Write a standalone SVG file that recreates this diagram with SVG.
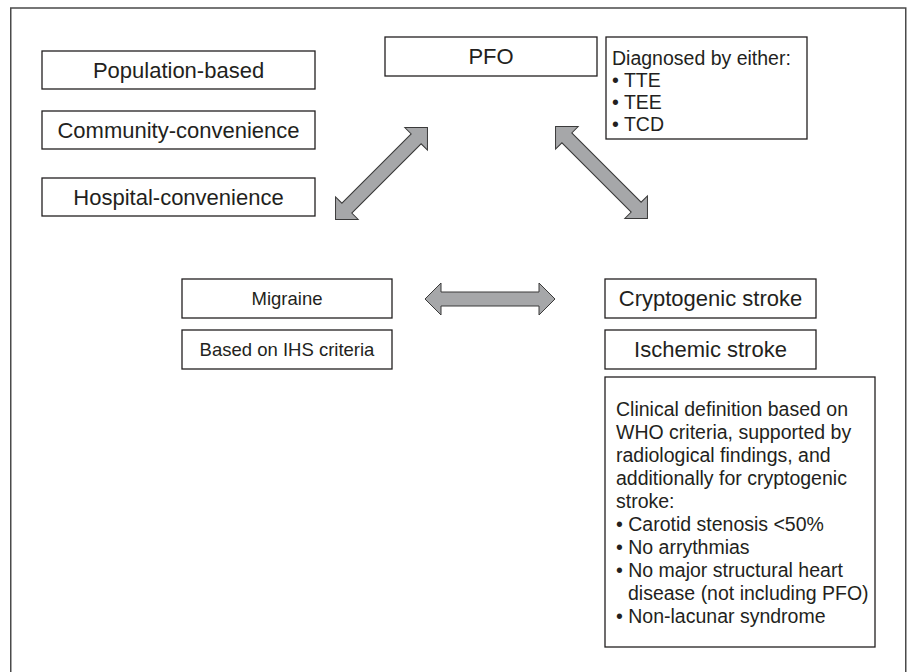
<svg xmlns="http://www.w3.org/2000/svg" width="909" height="672" viewBox="0 0 909 672">
<style>
.frame{fill:none;stroke:#4a4a4a;stroke-width:1.5}
.box{fill:#fff;stroke:#231f20;stroke-width:1.3}
.t{font-family:"Liberation Sans",Arial,sans-serif;fill:#231f20}
.big{font-size:22px;text-anchor:middle}
.mid{font-size:18.5px;text-anchor:middle}
.sm{font-size:19.5px}
.cl{font-size:19.5px}
.arr{fill:#a6a7a9;stroke:#3a3a3a;stroke-width:1}
</style>
<defs>
<path id="dbl" d="M-65,0 L-49,-16 L-49,-7 L49,-7 L49,-16 L65,0 L49,16 L49,7 L-49,7 L-49,16 Z"/>
</defs>
<rect width="909" height="672" fill="#fff"/>
<rect class="frame" x="10.75" y="8" width="895" height="700"/>

<g id="population-based">
<rect class="box" x="42" y="51" width="273" height="38"/>
<text class="t big" x="178.5" y="77.5">Population-based</text>
</g>
<g id="community-convenience">
<rect class="box" x="42" y="111" width="273" height="38"/>
<text class="t big" x="178.5" y="137.5">Community-convenience</text>
</g>
<g id="hospital-convenience">
<rect class="box" x="42" y="178" width="273" height="38"/>
<text class="t big" x="178.5" y="204.5">Hospital-convenience</text>
</g>
<g id="pfo">
<rect class="box" x="385" y="37" width="212" height="39"/>
<text class="t big" x="491" y="64">PFO</text>
</g>
<g id="pfo-diagnosis">
<rect class="box" x="606" y="37" width="201" height="102"/>
<text class="t sm" x="612">
<tspan x="612" y="65">Diagnosed by either:</tspan>
<tspan x="612" y="87">• TTE</tspan>
<tspan x="612" y="109">• TEE</tspan>
<tspan x="612" y="131">• TCD</tspan>
</text>
</g>
<g id="migraine">
<rect class="box" x="182" y="279" width="210" height="39"/>
<text class="t mid" x="287" y="305">Migraine</text>
</g>
<g id="ihs-criteria">
<rect class="box" x="182" y="330" width="210" height="39"/>
<text class="t mid" x="287" y="356">Based on IHS criteria</text>
</g>
<g id="cryptogenic-stroke">
<rect class="box" x="605" y="279" width="211" height="39"/>
<text class="t big" x="710.5" y="306">Cryptogenic stroke</text>
</g>
<g id="ischemic-stroke">
<rect class="box" x="605" y="330" width="211" height="39"/>
<text class="t big" x="710.5" y="357">Ischemic stroke</text>
</g>
<g id="stroke-definition">
<rect class="box" x="605" y="377" width="270" height="270"/>
<text class="t cl">
<tspan x="616" y="416">Clinical definition based on</tspan>
<tspan x="616" y="439">WHO criteria, supported by</tspan>
<tspan x="616" y="462">radiological findings, and</tspan>
<tspan x="616" y="485">additionally for cryptogenic</tspan>
<tspan x="616" y="508">stroke:</tspan>
<tspan x="616" y="531">• Carotid stenosis &lt;50%</tspan>
<tspan x="616" y="554">• No arrythmias</tspan>
<tspan x="616" y="577">• No major structural heart</tspan>
<tspan x="628" y="600">disease (not including PFO)</tspan>
<tspan x="616" y="623">• Non-lacunar syndrome</tspan>
</text>
</g>

<g id="connectors">
<use href="#dbl" class="arr" transform="translate(381.5,173.5) rotate(-45)"/>
<use href="#dbl" class="arr" transform="translate(601.5,172.5) rotate(45)"/>
<use href="#dbl" class="arr" transform="translate(490,299)"/>
</g>
</svg>
